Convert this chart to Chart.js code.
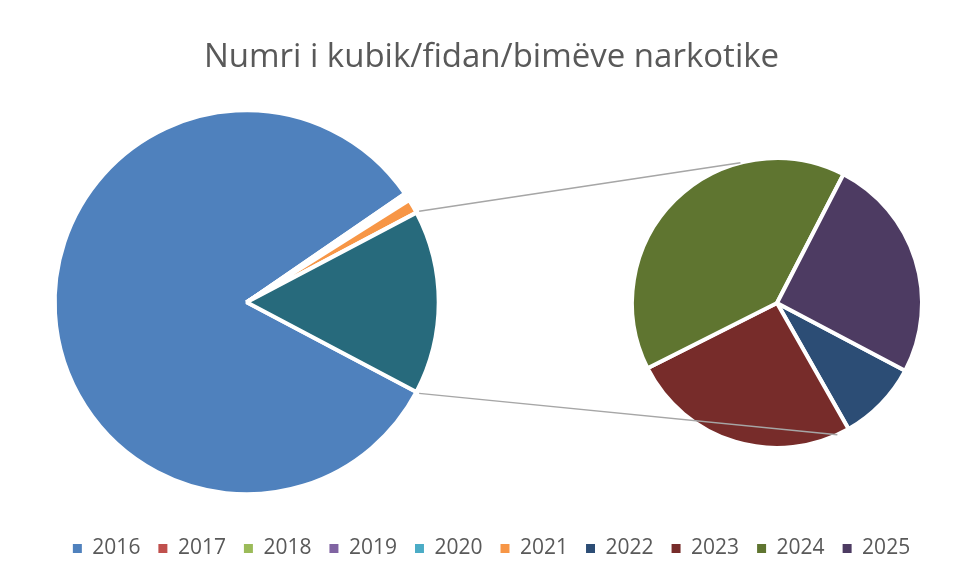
<!DOCTYPE html>
<html>
<head>
<meta charset="utf-8">
<script src="https://cdn.jsdelivr.net/npm/chart.js@4"></script>
<style>
html, body { margin: 0; padding: 0; background: #fff; }
#wrap { position: relative; width: 957px; height: 581px; }
#wrap canvas { position: absolute; left: 0; top: 0; }
#secondChart { pointer-events: none; }
</style>
</head>
<body>
<div id="wrap">
  <canvas id="mainChart" width="957" height="581"></canvas>
  <canvas id="secondChart" width="957" height="581"></canvas>
</div>
<script>
// data
var years = ['2016', '2017', '2018', '2019', '2020', '2021', '2022', '2023', '2024', '2025'];
var mainYears = ['2016', '2017', '2018', '2019', '2020', '2021'];
var mainValues = [82700, 160, 160, 160, 160, 1200];
var secondYears = ['2022', '2023', '2024', '2025'];
var secondValues = [1400, 3990, 6190, 3890];
var otherLabel = 'Të tjera';

var colors = ['#4F81BD', '#C0504D', '#9BBB59', '#8064A2', '#4BACC6', '#F79646',
              '#2C4D75', '#772C2A', '#5F7530', '#4D3B62'];
var otherColor = '#276A7C';
var textColor = '#595959';

var sum = function(arr) { return arr.reduce(function(a, b) { return a + b; }, 0); };
var otherTotal = sum(secondValues);
var grandTotal = sum(mainValues) + otherTotal;
// the "other" slice is centred on the right hand side, like Excel's pie of pie
var startRotation = 90 + otherTotal / grandTotal * 180;

// puts the pie where we want it, independent of title/legend
var placePie = {
  id: 'placePie',
  afterLayout: function(chart, args, opts) {
    var a = chart.chartArea;
    a.left = opts.x - opts.half;
    a.right = opts.x + opts.half;
    a.top = opts.y - opts.half;
    a.bottom = opts.y + opts.half;
    a.width = opts.half * 2;
    a.height = opts.half * 2;
  }
};

var mainChart = new Chart(document.getElementById('mainChart'), {
  type: 'pie',
  plugins: [placePie],
  data: {
    labels: mainYears.concat([otherLabel]),
    datasets: [{
      data: mainValues.concat([otherTotal]),
      backgroundColor: colors.slice(0, 6).concat([otherColor]),
      borderColor: '#ffffff',
      borderWidth: 4,
      radius: 192,
      rotation: startRotation
    }]
  },
  options: {
    responsive: false,
    animation: false,
    layout: { padding: { left: 26, bottom: 12 } },
    plugins: {
      placePie: { x: 246.7, y: 302.3, half: 205 },
      title: {
        display: true,
        text: 'Numri i kubik/fidan/bimëve narkotike',
        color: textColor,
        font: { family: 'Open Sans', size: 33, weight: 'normal' },
        padding: { top: 38, bottom: 0 }
      },
      legend: {
        position: 'bottom',
        onClick: null,
        labels: {
          boxWidth: 9,
          boxHeight: 9,
          padding: 18,
          color: textColor,
          font: { family: 'Open Sans', size: 21 },
          generateLabels: function() {
            return years.map(function(y, i) {
              return { text: y, fillStyle: colors[i], strokeStyle: colors[i], lineWidth: 0,
                       fontColor: textColor, hidden: false, index: i };
            });
          }
        }
      },
      tooltip: { enabled: false }
    }
  }
});

// lines from the "other" slice to the second pie
var connectors = {
  id: 'connectors',
  afterDraw: function(chart, args, opts) {
    var big = mainChart.getDatasetMeta(0).data[mainValues.length];
    var small = chart.getDatasetMeta(0).data[0];
    var ctx = chart.ctx;
    var r1 = big.outerRadius + 3;
    var pairs = [[big.startAngle, opts.topAngle], [big.endAngle, opts.bottomAngle]];
    ctx.save();
    ctx.strokeStyle = '#A6A6A6';
    ctx.lineWidth = 1.5;
    pairs.forEach(function(p) {
      var a = p[1] * Math.PI / 180;
      ctx.beginPath();
      ctx.moveTo(big.x + r1 * Math.cos(p[0]), big.y + r1 * Math.sin(p[0]));
      ctx.lineTo(small.x + small.outerRadius * Math.cos(a), small.y + small.outerRadius * Math.sin(a));
      ctx.stroke();
    });
    ctx.restore();
  }
};

var secondChart = new Chart(document.getElementById('secondChart'), {
  type: 'pie',
  plugins: [placePie, connectors],
  data: {
    labels: secondYears,
    datasets: [{
      data: secondValues,
      backgroundColor: colors.slice(6),
      borderColor: '#ffffff',
      borderWidth: 4,
      radius: 145,
      rotation: startRotation
    }]
  },
  options: {
    responsive: false,
    animation: false,
    plugins: {
      placePie: { x: 777, y: 303, half: 155 },
      connectors: { topAngle: -104.6, bottomAngle: 65.4 },
      title: { display: false },
      legend: { display: false },
      tooltip: { enabled: false }
    }
  }
});
</script>
</body>
</html>
